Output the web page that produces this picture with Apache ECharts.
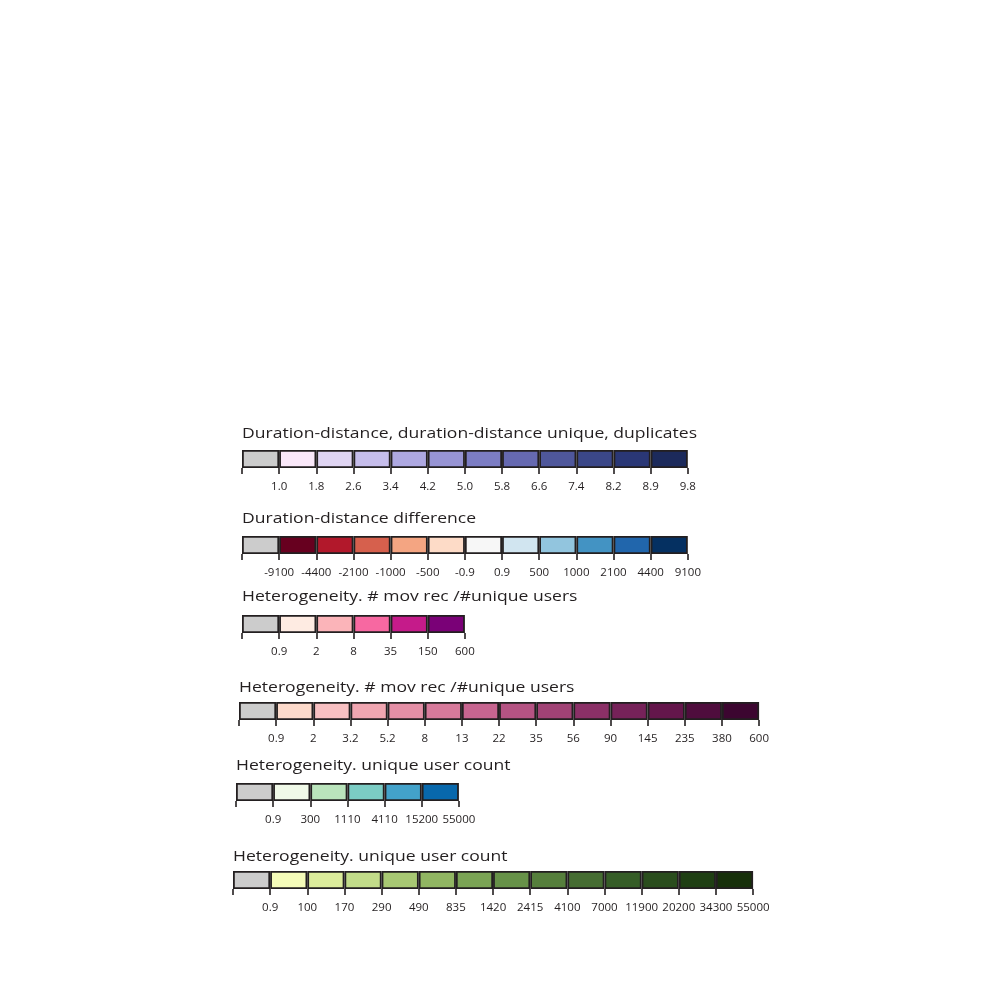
<!DOCTYPE html>
<html>
<head>
<meta charset="utf-8">
<script src="https://cdn.jsdelivr.net/npm/echarts@6/dist/echarts.min.js"></script>
<style>html,body{margin:0;padding:0;background:#fff;}#c{width:1000px;height:1000px;}</style>
</head>
<body>
<div id="c"></div>
<script>
// ---- data ----
const titles = [
  'Duration-distance, duration-distance unique, duplicates',
  'Duration-distance difference',
  'Heterogeneity. # mov rec /#unique users',
  'Heterogeneity. # mov rec /#unique users',
  'Heterogeneity. unique user count',
  'Heterogeneity. unique user count'
];
const colors1 = ['#cccccc','#fae8f9','#e0d5f3','#c6bdeb','#aea8e1','#9794d4','#7c7dc4','#6669b1','#4f579b','#3b4788','#2a3776','#1c2a5b'];
const labels1 = ['1.0','1.8','2.6','3.4','4.2','5.0','5.8','6.6','7.4','8.2','8.9','9.8'];
const colors2 = ['#cccccc','#67001f','#b2182b','#d6604d','#f4a582','#fddbc7','#f7f7f7','#d1e5f0','#92c5de','#4393c3','#2166ac','#053061'];
const labels2 = ['-9100','-4400','-2100','-1000','-500','-0.9','0.9','500','1000','2100','4400','9100'];
const colors3 = ['#cccccc','#feebe2','#fbb4b9','#f768a1','#c51b8a','#7a0177'];
const labels3 = ['0.9','2','8','35','150','600'];
const colors4 = ['#cccccc','#fddacb','#f8c0c2','#f0a6b1','#e48fa6','#d77a9b','#c76590','#b55383','#a14275','#8b3067','#762259','#64164b','#4f0d3d','#3c0630'];
const labels4 = ['0.9','2','3.2','5.2','8','13','22','35','56','90','145','235','380','600'];
const colors5 = ['#cccccc','#f0f9e8','#bae4bc','#7bccc4','#43a2ca','#0868ac'];
const labels5 = ['0.9','300','1110','4110','15200','55000'];
const colors6 = ['#cccccc','#f4fbb8','#dcec9b','#c2dc89','#a8c873','#91b662','#7ba455','#679248','#567f3c','#466d32','#365d27','#2a4d1d','#1f3f13','#17300a'];
const labels6 = ['0.9','100','170','290','490','835','1420','2415','4100','7000','11900','20200','34300','55000'];

// ---- layout ----
const legends = [
  {colors: colors1, labels: labels1, left: 242, top: 450, titleY: 434},
  {colors: colors2, labels: labels2, left: 242, top: 536, titleY: 519},
  {colors: colors3, labels: labels3, left: 242, top: 615, titleY: 597},
  {colors: colors4, labels: labels4, left: 239, top: 702, titleY: 688},
  {colors: colors5, labels: labels5, left: 236, top: 783, titleY: 766},
  {colors: colors6, labels: labels6, left: 233, top: 871, titleY: 857}
];
const BOX = 37.15, H = 18;
const FONT = 'Open Sans';
const INK = '#231f20';

const grid = [], xAxis = [], yAxis = [], series = [], graphic = [];
legends.forEach((lg, i) => {
  const n = lg.colors.length;
  grid.push({left: lg.left, top: lg.top, width: n * BOX, height: H, containLabel: false});
  graphic.push({
    type: 'text', x: lg.left, y: lg.titleY, scaleX: 1.17, silent: true,
    style: {
      text: titles[i], fill: INK, font: 'normal 15px "' + FONT + '"',
      textAlign: 'left', textVerticalAlign: 'middle', verticalAlign: 'middle'
    }
  });
  xAxis.push({
    type: 'category', gridIndex: i, data: lg.colors.map((c, k) => k),
    show: false, boundaryGap: true
  });
  xAxis.push({
    type: 'value', gridIndex: i, min: 0, max: n, interval: 1, position: 'bottom',
    axisLine: {show: false},
    splitLine: {show: false},
    axisTick: {show: true, length: 6, lineStyle: {color: INK, width: 1.6}},
    axisLabel: {
      show: true, margin: 13, fontFamily: FONT, fontSize: 11.5, color: INK,
      showMinLabel: true, showMaxLabel: true, hideOverlap: false,
      formatter: (v) => { const k = Math.round(v); return k >= 1 ? lg.labels[k - 1] : ''; }
    }
  });
  yAxis.push({type: 'value', gridIndex: i, min: 0, max: 1, show: false});
  series.push({
    type: 'bar', xAxisIndex: 2 * i, yAxisIndex: i,
    barWidth: '100%', barCategoryGap: '0%', silent: true, animation: false,
    data: lg.colors.map(c => ({value: 1, itemStyle: {color: c}})),
    itemStyle: {borderColor: INK, borderWidth: 1.8}
  });
});

const chart = echarts.init(document.getElementById('c'), null, {renderer: 'canvas'});
chart.setOption({
  backgroundColor: '#ffffff',
  animation: false,
  graphic, grid, xAxis, yAxis, series
});
</script>
</body>
</html>
